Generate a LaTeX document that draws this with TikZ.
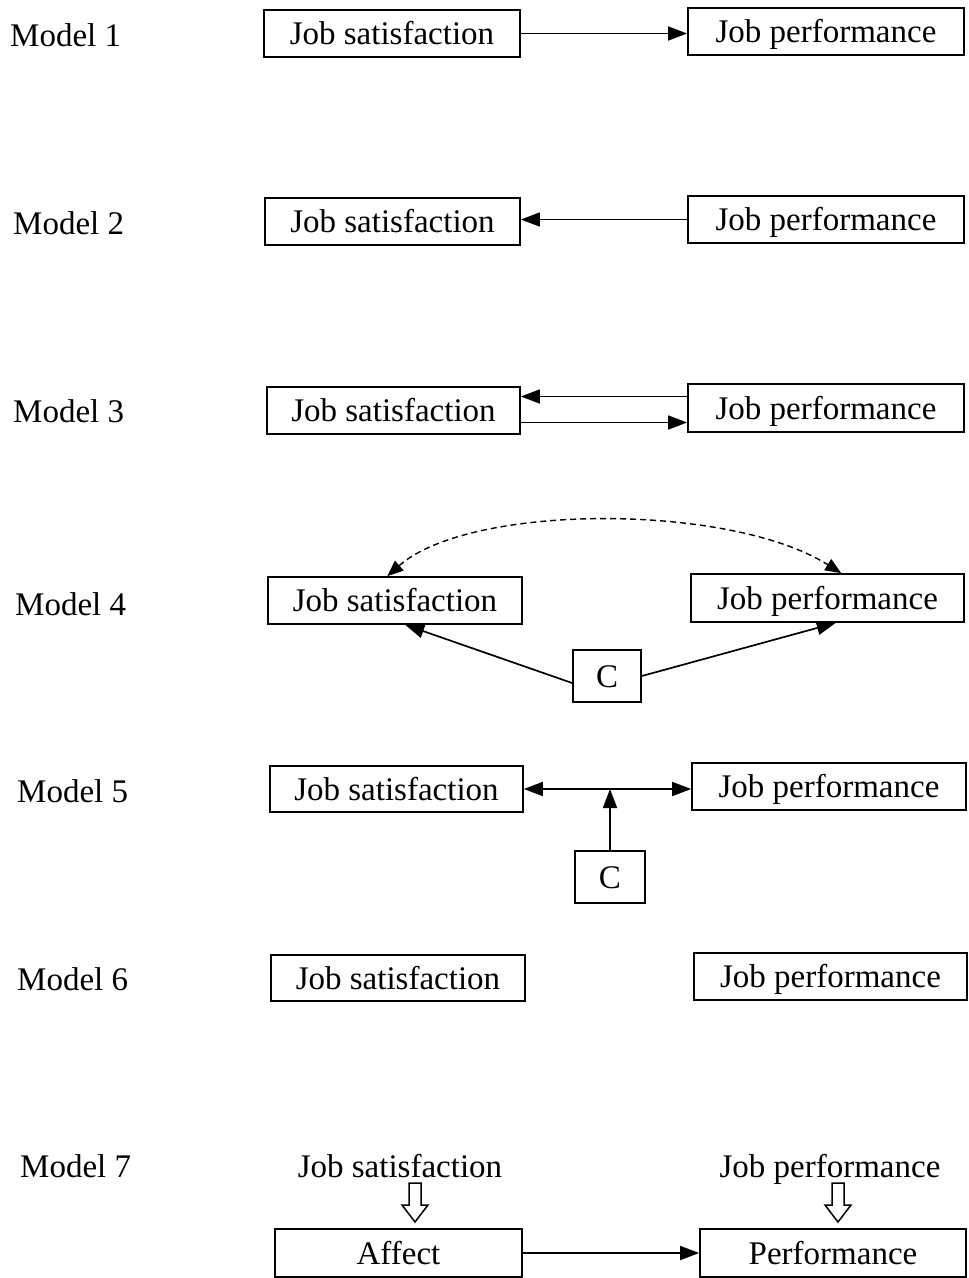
\documentclass[tikz,border=0pt]{standalone}
\usepackage{fontspec}
\setmainfont{Liberation Serif}
\usetikzlibrary{arrows.meta,calc}
\tikzset{
  fnt/.style={font=\fontsize{33}{38}\selectfont, text height=24pt, text depth=2pt},
  bx/.style={draw, line width=1.7pt, inner sep=0pt, fnt},
  lbl/.style={anchor=west, inner sep=0pt, fnt},
  txt/.style={inner sep=0pt, fnt},
  arr/.style={line width=1.7pt, -{Triangle[length=19pt,width=14pt]}},
  arrboth/.style={line width=1.7pt, {Triangle[length=19pt,width=14pt]}-{Triangle[length=19pt,width=14pt]}},
  dasharr/.style={line width=1.4pt, dash pattern=on 6pt off 4pt, {Triangle[length=16pt,width=13pt]}-{Triangle[length=16pt,width=13pt]}},
  hollow/.style={draw, line width=1.5pt, fill=white, line join=miter}
}
\newcommand{\downblock}[3]{% x, shaft top, tip
  \draw[hollow] (#1-6,#2) -- (#1+6,#2) -- (#1+6,#3-17) -- (#1+13,#3-17) -- (#1,#3)
    -- (#1-13,#3-17) -- (#1-6,#3-17) -- cycle;}
\begin{document}
\begin{tikzpicture}[x=1pt,y=-1pt]
\useasboundingbox (0,0) rectangle (969,1278);

% Model labels
\node[lbl] (l1) at (10,35) {Model 1};
\node[lbl] (l2) at (13,223) {Model 2};
\node[lbl] (l3) at (13,411) {Model 3};
\node[lbl] (l4) at (15,604) {Model 4};
\node[lbl] (l5) at (17,791) {Model 5};
\node[lbl] (l6) at (17,979) {Model 6};
\node[lbl] (l7) at (20,1166) {Model 7};

% Model 1
\node[bx, minimum width=256pt, minimum height=47pt] (js1) at (392,33.5) {Job satisfaction};
\node[bx, minimum width=276pt, minimum height=47pt] (jp1) at (826,31.5) {Job performance};
\draw[arr] (js1.east) -- (js1.east -| jp1.west);

% Model 2
\node[bx, minimum width=255pt, minimum height=47pt] (js2) at (392.5,221.5) {Job satisfaction};
\node[bx, minimum width=276pt, minimum height=47pt] (jp2) at (826,219.5) {Job performance};
\draw[arr] (jp2.west) -- (jp2.west -| js2.east);

% Model 3
\node[bx, minimum width=253pt, minimum height=47pt] (js3) at (393.5,410.5) {Job satisfaction};
\node[bx, minimum width=276pt, minimum height=48pt] (jp3) at (826,408) {Job performance};
\draw[arr] ($(js3.east -| jp3.west)+(0,-14)$) -- ($(js3.east)+(0,-14)$);
\draw[arr] ($(js3.east)+(0,12)$) -- ($(js3.east -| jp3.west)+(0,12)$);

% Model 4
\node[bx, minimum width=254pt, minimum height=47pt] (js4) at (395,600.5) {Job satisfaction};
\node[bx, minimum width=273pt, minimum height=48pt] (jp4) at (827.5,598) {Job performance};
\node[bx, minimum width=68pt, minimum height=52pt] (c4) at (607,676) {C};
\draw[arr] ($(c4.west)+(0,7)$) -- ($(js4.south west)!0.54!(js4.south east)$);
\draw[arr] (c4.east) -- ($(jp4.south west)!0.53!(jp4.south east)$);
\draw[dasharr] ($(js4.north west)!0.47!(js4.north east)$)
  .. controls (470,503) and (730,503) .. ($(jp4.north west)!0.55!(jp4.north east)$);

% Model 5
\node[bx, minimum width=253pt, minimum height=46pt] (js5) at (396.5,789) {Job satisfaction};
\node[bx, minimum width=274pt, minimum height=47pt] (jp5) at (829,786.5) {Job performance};
\node[bx, minimum width=70pt, minimum height=52pt] (c5) at (610,877) {C};
\draw[arrboth] (js5.east) -- (js5.east -| jp5.west);
\draw[arr] (c5.north) -- (c5.north |- js5.east);

% Model 6
\node[bx, minimum width=254pt, minimum height=46pt] (js6) at (398,978) {Job satisfaction};
\node[bx, minimum width=273pt, minimum height=47pt] (jp6) at (830.5,976.5) {Job performance};

% Model 7
\node[txt] (t7a) at (400,1166) {Job satisfaction};
\node[txt] (t7b) at (830,1166) {Job performance};
\node[bx, minimum width=247pt, minimum height=48pt] (af7) at (398.5,1253) {Affect};
\node[bx, minimum width=266pt, minimum height=48pt] (pf7) at (833,1253) {Performance};
\downblock{415}{1183}{1222}
\downblock{838}{1183}{1222}
\draw[arr] (af7.east) -- (af7.east -| pf7.west);
\end{tikzpicture}
\end{document}
